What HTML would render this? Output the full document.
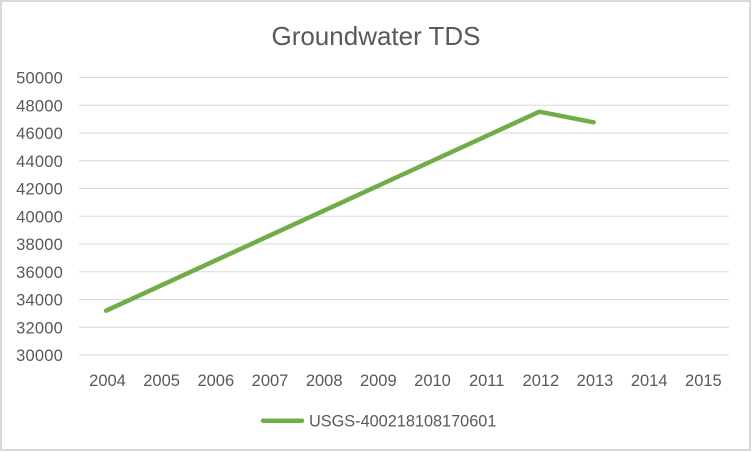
<!DOCTYPE html>
<html><head><meta charset="utf-8"><style>
html,body{margin:0;padding:0;background:#fff;}
svg{display:block;}
text{font-family:"Liberation Sans",sans-serif;fill:#595959;}
</style></head><body>
<svg width="752" height="452" viewBox="0 0 752 452" xmlns="http://www.w3.org/2000/svg">
<rect x="0" y="0" width="752" height="452" fill="#fff"/>
<rect x="1" y="1" width="749" height="449" fill="none" stroke="#d9d9d9" stroke-width="2"/>
<text x="376" y="45" font-size="26" text-anchor="middle">Groundwater TDS</text>
<g stroke="#d9d9d9" stroke-width="1">
<line x1="79" x2="729" y1="77.5" y2="77.5"/>
<line x1="79" x2="729" y1="105.25" y2="105.25"/>
<line x1="79" x2="729" y1="133" y2="133"/>
<line x1="79" x2="729" y1="160.75" y2="160.75"/>
<line x1="79" x2="729" y1="188.5" y2="188.5"/>
<line x1="79" x2="729" y1="216.25" y2="216.25"/>
<line x1="79" x2="729" y1="244" y2="244"/>
<line x1="79" x2="729" y1="271.75" y2="271.75"/>
<line x1="79" x2="729" y1="299.5" y2="299.5"/>
<line x1="79" x2="729" y1="327.25" y2="327.25"/>
<line x1="79" x2="729" y1="355" y2="355"/>
</g>
<g font-size="16.5" text-anchor="end" letter-spacing="0.2">
<text x="63" y="83.5">50000</text>
<text x="63" y="111.25">48000</text>
<text x="63" y="139">46000</text>
<text x="63" y="166.75">44000</text>
<text x="63" y="194.5">42000</text>
<text x="63" y="222.25">40000</text>
<text x="63" y="250">38000</text>
<text x="63" y="277.75">36000</text>
<text x="63" y="305.5">34000</text>
<text x="63" y="333.25">32000</text>
<text x="63" y="361">30000</text>
</g>
<g font-size="16.5" text-anchor="middle">
<text x="107.5" y="386">2004</text>
<text x="161.6" y="386">2005</text>
<text x="215.8" y="386">2006</text>
<text x="270" y="386">2007</text>
<text x="324.2" y="386">2008</text>
<text x="378.3" y="386">2009</text>
<text x="432.5" y="386">2010</text>
<text x="486.7" y="386">2011</text>
<text x="540.9" y="386">2012</text>
<text x="595" y="386">2013</text>
<text x="649.2" y="386">2014</text>
<text x="703.4" y="386">2015</text>
</g>
<polyline fill="none" stroke="#70ad47" stroke-width="4.5" stroke-linecap="round" stroke-linejoin="round"
 points="106.1,310.7 539.4,111.7 593.6,122.3"/>
<line x1="263" y1="420.7" x2="302" y2="420.7" stroke="#70ad47" stroke-width="4.5" stroke-linecap="round"/>
<text x="309" y="426.5" font-size="16.3">USGS-400218108170601</text>
</svg>
</body></html>
